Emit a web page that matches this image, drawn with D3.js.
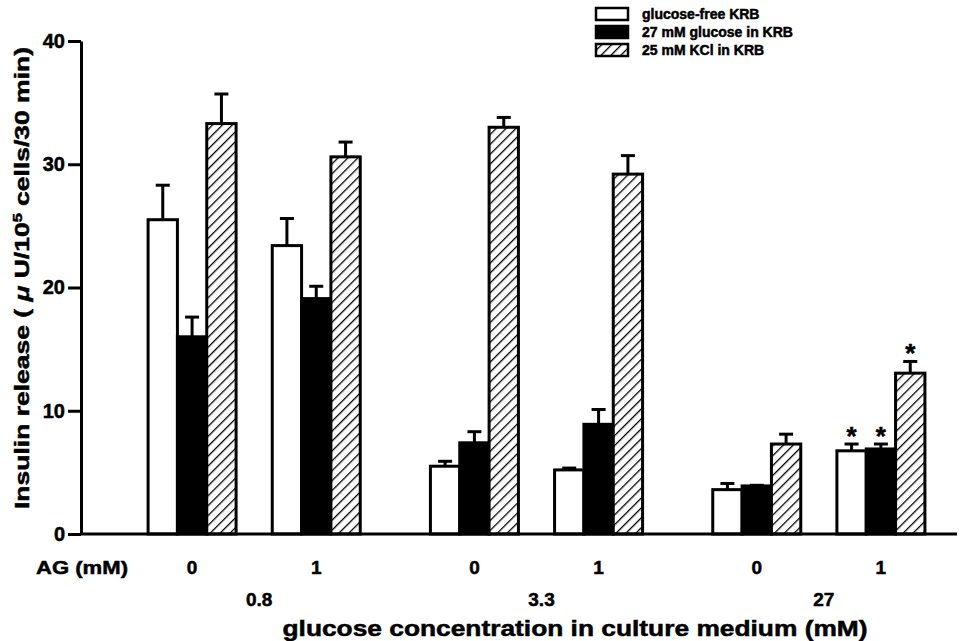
<!DOCTYPE html>
<html>
<head>
<meta charset="utf-8">
<script src="https://cdn.jsdelivr.net/npm/d3@7"></script>
<style>
  body { margin: 0; background: #fff; }
  text { stroke: #000; stroke-width: 0.5px; }
</style>
</head>
<body>
<svg id="chart" width="962" height="641" font-family="Arial, 'Liberation Sans', Helvetica, sans-serif" font-weight="700"></svg>
<script>
// data
const glucoseLevels = ["0.8", "3.3", "27"];
const agLevels = ["0", "1"];
const seriesNames = ["glucose-free KRB", "27 mM glucose in KRB", "25 mM KCl in KRB"];
const yTicks = [0, 10, 20, 30, 40];

// one entry per (glucose, AG) group, in drawing order
const freeMean    = [25.5, 23.4, 5.5, 5.2, 3.6, 6.75];
const freeSem     = [2.8, 2.2, 0.4, 0.15, 0.5, 0.55];
const glucoseMean = [16.0, 19.1, 7.4, 8.9, 3.9, 6.9];
const glucoseSem  = [1.6, 1.0, 0.9, 1.2, 0.05, 0.4];
const kclMean     = [33.3, 30.6, 33.0, 29.2, 7.3, 13.05];
const kclSem      = [2.4, 1.2, 0.8, 1.5, 0.8, 0.95];
// significance marks (*) per group, per series
const freeStar    = [false, false, false, false, false, true];
const glucoseStar = [false, false, false, false, false, true];
const kclStar     = [false, false, false, false, false, true];

const means = [freeMean, glucoseMean, kclMean];
const sems = [freeSem, glucoseSem, kclSem];
const stars = [freeStar, glucoseStar, kclStar];

const svg = d3.select("#chart");
const defs = svg.append("defs");

// diagonal hatch for KCl bars
const pat = defs.append("pattern")
  .attr("id", "hatch")
  .attr("patternUnits", "userSpaceOnUse")
  .attr("width", 7).attr("height", 7)
  .attr("patternTransform", "rotate(45)");
pat.append("rect").attr("width", 7).attr("height", 7).attr("fill", "#fff");
pat.append("line")
  .attr("x1", 0).attr("y1", 0).attr("x2", 0).attr("y2", 7)
  .attr("stroke", "#000").attr("stroke-width", 2.6);

const fills = ["#fff", "#000", "url(#hatch)"];

const x0 = d3.scaleBand().domain(glucoseLevels).range([113, 960]);
const x1 = d3.scalePoint().domain(agLevels).range([0, x0.bandwidth()]).padding(0.637);
const xs = d3.scaleBand().domain(d3.range(seriesNames.length)).range([-44, 44]);
const y = d3.scaleLinear().domain([0, 40]).range([534, 41]);

const groups = [];
glucoseLevels.forEach(g => agLevels.forEach(a => groups.push({ glucose: g, ag: a })));
const cx = i => x0(groups[i].glucose) + x1(groups[i].ag);

// bars, error bars, stars
means.forEach((vals, s) => {
  const layer = svg.append("g");
  vals.forEach((v, i) => {
    const left = cx(i) + xs(s);
    const mid = left + xs.bandwidth() / 2;
    const top = y(v + sems[s][i]);
    layer.append("line")
      .attr("x1", mid).attr("x2", mid)
      .attr("y1", y(v)).attr("y2", top)
      .attr("stroke", "#000").attr("stroke-width", 3);
    layer.append("line")
      .attr("x1", mid - 7).attr("x2", mid + 7)
      .attr("y1", top).attr("y2", top)
      .attr("stroke", "#000").attr("stroke-width", 3);
    layer.append("rect")
      .attr("x", left)
      .attr("y", y(v))
      .attr("width", xs.bandwidth())
      .attr("height", y(0) - y(v))
      .attr("fill", fills[s])
      .attr("stroke", "#000")
      .attr("stroke-width", 3);
    if (stars[s][i]) {
      layer.append("text")
        .attr("x", mid)
        .attr("y", top + 1)
        .attr("text-anchor", "middle")
        .attr("font-size", "26px")
        .text("*");
    }
  });
});

// y axis
const yAxis = svg.append("g")
  .attr("transform", "translate(81,0)")
  .call(d3.axisLeft(y).tickValues(yTicks).tickSize(13).tickPadding(3).tickSizeOuter(0));
yAxis.attr("font-family", null);
yAxis.select(".domain").attr("stroke-width", 3);
yAxis.selectAll(".tick line").attr("stroke-width", 3);
yAxis.selectAll(".tick text").attr("font-size", "20px").attr("fill", "#000");

// baseline
svg.append("line")
  .attr("x1", 81).attr("x2", 957)
  .attr("y1", y(0)).attr("y2", y(0))
  .attr("stroke", "#000").attr("stroke-width", 3);

// y label
svg.append("text")
  .attr("transform", `translate(29,${278}) rotate(-90)`)
  .attr("text-anchor", "middle")
  .attr("font-size", "21px")
  .attr("textLength", 462)
  .attr("lengthAdjust", "spacingAndGlyphs")
  .html('Insulin release ( <tspan font-style="italic">μ</tspan> U/10<tspan baseline-shift="super" font-size="13px">5</tspan> cells/30 min)');

// AG row
svg.append("text")
  .attr("x", 36).attr("y", 574)
  .attr("font-size", "19px")
  .attr("textLength", 92)
  .attr("lengthAdjust", "spacingAndGlyphs")
  .text("AG (mM)");
svg.selectAll(".ag")
  .data(groups)
  .enter().append("text")
  .attr("class", "ag")
  .attr("x", (d, i) => cx(i))
  .attr("y", 574)
  .attr("text-anchor", "middle")
  .attr("font-size", "19px")
  .text(d => d.ag);

// glucose row
svg.selectAll(".glc")
  .data(glucoseLevels)
  .enter().append("text")
  .attr("class", "glc")
  .attr("x", d => x0(d) + x0.bandwidth() / 2 + 5)
  .attr("y", 606)
  .attr("text-anchor", "middle")
  .attr("font-size", "19px")
  .text(d => d);

svg.append("text")
  .attr("x", 575).attr("y", 636)
  .attr("text-anchor", "middle")
  .attr("font-size", "22px")
  .attr("textLength", 585)
  .attr("lengthAdjust", "spacingAndGlyphs")
  .text("glucose concentration in culture medium (mM)");

// legend
const legend = svg.append("g").attr("transform", "translate(596,0)");
seriesNames.forEach((name, s) => {
  const ly = 14 + s * 18;
  legend.append("rect")
    .attr("x", 0).attr("y", ly - 6)
    .attr("width", 32).attr("height", 12)
    .attr("fill", fills[s])
    .attr("stroke", "#000").attr("stroke-width", 2.5);
  legend.append("text")
    .attr("x", 46).attr("y", ly + 5)
    .attr("font-size", "14px")
    .text(name);
});
</script>
</body>
</html>
